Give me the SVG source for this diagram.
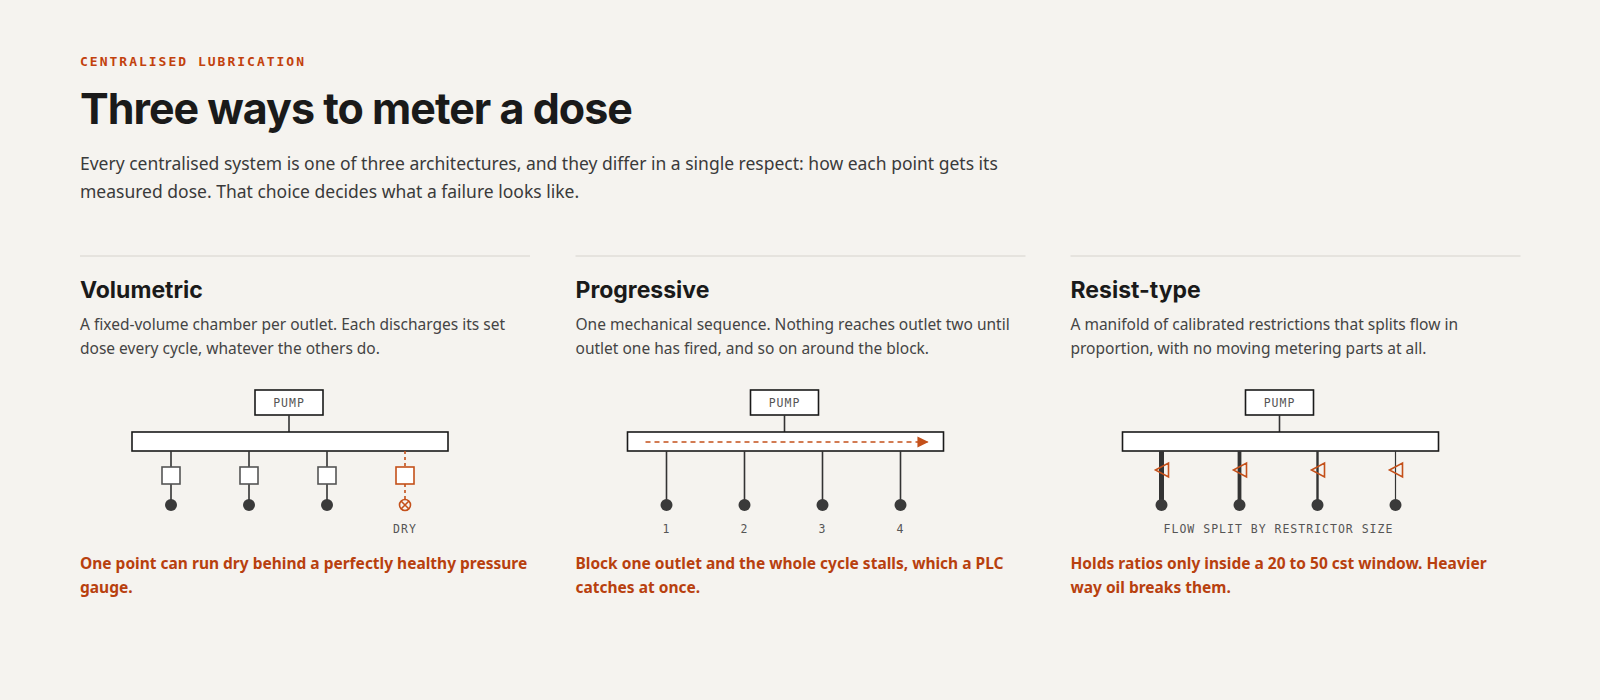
<svg xmlns="http://www.w3.org/2000/svg" width="1600" height="700" viewBox="0 0 1600 700">
<style>
.eb{font-family:"DejaVu Sans Mono","Liberation Mono",monospace;font-size:13px;font-weight:bold;fill:#c2410c;letter-spacing:2px}
.t{font-family:Inter,"Liberation Sans",sans-serif;font-size:43px;font-weight:bold;fill:#1a1a1a;letter-spacing:-1px}
.sub{font-family:"Noto Sans","Liberation Sans",sans-serif;font-size:17.5px;fill:#3a3a3a}
.h{font-family:Inter,"Liberation Sans",sans-serif;font-size:23px;font-weight:bold;fill:#1a1a1a}
.d{font-family:"Noto Sans","Liberation Sans",sans-serif;font-size:15.5px;fill:#444}
.n{font-family:"Noto Sans","Liberation Sans",sans-serif;font-size:15.5px;font-weight:bold;fill:#b8400e}
.m{font-family:"DejaVu Sans Mono","Liberation Mono",monospace;font-size:11.5px;fill:#555;letter-spacing:1px}
.box{fill:#fff;stroke:#1a1a1a;stroke-width:1.6}
.ln{stroke:#333;stroke-width:1.6;fill:none}
.dot{fill:#3a3a3a}
.or{stroke:#c4501a;stroke-width:1.6;fill:none}
</style>
<defs>
<marker id="ah" viewBox="0 0 10 10" refX="9" refY="5" markerWidth="7" markerHeight="7" orient="auto"><path d="M0 0L10 5L0 10z" fill="#c4501a"/></marker>
</defs>
<rect width="1600" height="700" fill="#f5f3ef"/>
<text class="eb" x="80" y="66">CENTRALISED LUBRICATION</text>
<text class="t" x="80" y="124">Three ways to meter a dose</text>
<text class="sub" x="80" y="170">Every centralised system is one of three architectures, and they differ in a single respect: how each point gets its</text>
<text class="sub" x="80" y="198">measured dose. That choice decides what a failure looks like.</text>

<g id="volumetric" transform="translate(80,0)">
<line x1="0" y1="256" x2="450" y2="256" stroke="#d6d3cd"/>
<text class="h" x="0" y="298">Volumetric</text>
<text class="d" x="0" y="330">A fixed-volume chamber per outlet. Each discharges its set</text>
<text class="d" x="0" y="354">dose every cycle, whatever the others do.</text>
<rect class="box" x="175" y="390" width="68" height="25"/>
<text class="m" x="209" y="407" text-anchor="middle">PUMP</text>
<line class="ln" x1="209" y1="415" x2="209" y2="432"/>
<rect class="box" x="52" y="432" width="316" height="19"/>
<g class="ln">
<path d="M91 451V467M91 484V505M169 451V467M169 484V505M247 451V467M247 484V505"/>
</g>
<rect x="82" y="467" width="18" height="17" fill="#fff" stroke="#555" stroke-width="1.6"/>
<rect x="160" y="467" width="18" height="17" fill="#fff" stroke="#555" stroke-width="1.6"/>
<rect x="238" y="467" width="18" height="17" fill="#fff" stroke="#555" stroke-width="1.6"/>
<circle class="dot" cx="91" cy="505" r="6"/><circle class="dot" cx="169" cy="505" r="6"/><circle class="dot" cx="247" cy="505" r="6"/>
<path class="or" d="M325 451V467M325 484V499" stroke-dasharray="3 3"/>
<rect x="316" y="467" width="18" height="17" fill="#fff" stroke="#c4501a" stroke-width="1.6"/>
<circle class="or" cx="325" cy="505" r="5.5"/>
<path class="or" d="M321 501L329 509M329 501L321 509"/>
<text class="m" x="325" y="533" text-anchor="middle">DRY</text>
<text class="n" x="0" y="569">One point can run dry behind a perfectly healthy pressure</text>
<text class="n" x="0" y="593">gauge.</text>
</g>

<g id="progressive" transform="translate(575.5,0)">
<line x1="0" y1="256" x2="450" y2="256" stroke="#d6d3cd"/>
<text class="h" x="0" y="298">Progressive</text>
<text class="d" x="0" y="330">One mechanical sequence. Nothing reaches outlet two until</text>
<text class="d" x="0" y="354">outlet one has fired, and so on around the block.</text>
<rect class="box" x="175" y="390" width="68" height="25"/>
<text class="m" x="209" y="407" text-anchor="middle">PUMP</text>
<line class="ln" x1="209" y1="415" x2="209" y2="432"/>
<rect class="box" x="52" y="432" width="316" height="19"/>
<line x1="70" y1="442" x2="352" y2="442" stroke="#c4501a" stroke-width="1.6" stroke-dasharray="5 4" marker-end="url(#ah)"/>
<path class="ln" d="M91 451V505M169 451V505M247 451V505M325 451V505"/>
<circle class="dot" cx="91" cy="505" r="6"/><circle class="dot" cx="169" cy="505" r="6"/><circle class="dot" cx="247" cy="505" r="6"/><circle class="dot" cx="325" cy="505" r="6"/>
<text class="m" x="91" y="533" text-anchor="middle">1</text>
<text class="m" x="169" y="533" text-anchor="middle">2</text>
<text class="m" x="247" y="533" text-anchor="middle">3</text>
<text class="m" x="325" y="533" text-anchor="middle">4</text>
<text class="n" x="0" y="569">Block one outlet and the whole cycle stalls, which a PLC</text>
<text class="n" x="0" y="593">catches at once.</text>
</g>

<g id="resist" transform="translate(1070.5,0)">
<line x1="0" y1="256" x2="450" y2="256" stroke="#d6d3cd"/>
<text class="h" x="0" y="298">Resist-type</text>
<text class="d" x="0" y="330">A manifold of calibrated restrictions that splits flow in</text>
<text class="d" x="0" y="354">proportion, with no moving metering parts at all.</text>
<rect class="box" x="175" y="390" width="68" height="25"/>
<text class="m" x="209" y="407" text-anchor="middle">PUMP</text>
<line class="ln" x1="209" y1="415" x2="209" y2="432"/>
<rect class="box" x="52" y="432" width="316" height="19"/>
<line x1="91" y1="451" x2="91" y2="505" stroke="#333" stroke-width="5"/>
<line x1="169" y1="451" x2="169" y2="505" stroke="#333" stroke-width="3.8"/>
<line x1="247" y1="451" x2="247" y2="505" stroke="#333" stroke-width="2.4"/>
<line x1="325" y1="451" x2="325" y2="505" stroke="#333" stroke-width="1.2"/>
<path class="or" d="M85 470L98 463V477Z M163 470L176 463V477Z M241 470L254 463V477Z M319 470L332 463V477Z" fill="#f5f3ef"/>
<circle class="dot" cx="91" cy="505" r="6"/><circle class="dot" cx="169" cy="505" r="6"/><circle class="dot" cx="247" cy="505" r="6"/><circle class="dot" cx="325" cy="505" r="6"/>
<text class="m" x="208" y="533" text-anchor="middle">FLOW SPLIT BY RESTRICTOR SIZE</text>
<text class="n" x="0" y="569">Holds ratios only inside a 20 to 50 cst window. Heavier</text>
<text class="n" x="0" y="593">way oil breaks them.</text>
</g>
</svg>
